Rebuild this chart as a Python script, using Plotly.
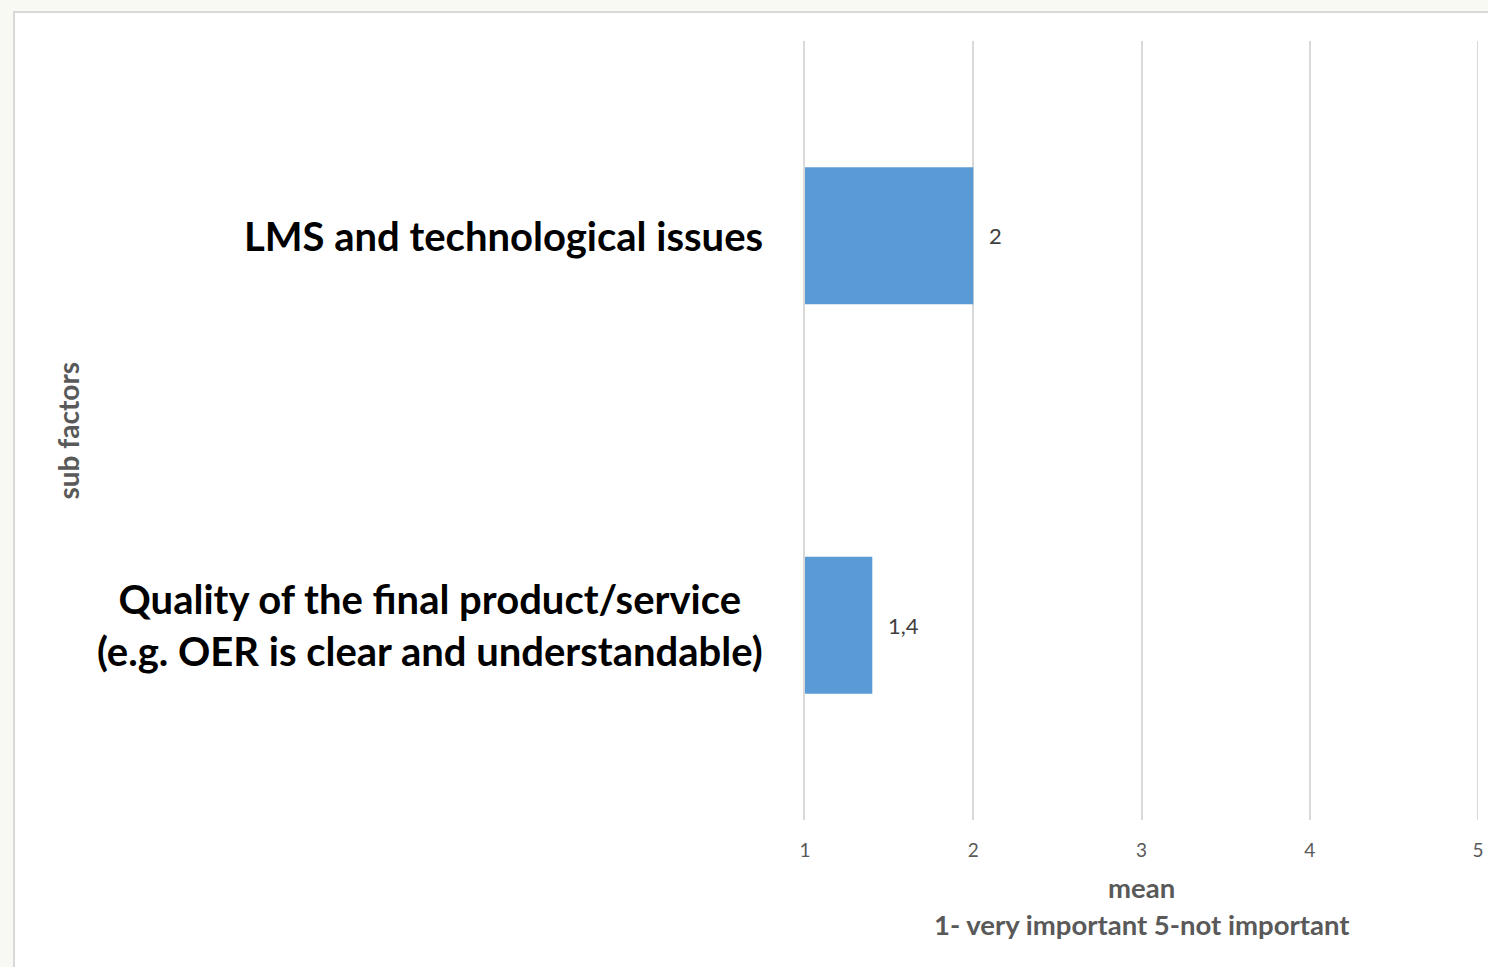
import plotly.graph_objects as go

categories = ["Quality of the final product/service<br>(e.g. OER is clear and understandable)",
              "LMS and technological issues"]
means = [1.4, 2]
x_ticks = [1, 2, 3, 4, 5]
x_title_lines = ["mean", "1- very important 5-not important"]
y_title = "sub factors"

W, H = 1488, 967
L, R, T, B = 805, 1478, 41, 820
FONT = "Lato, Open Sans, sans-serif"
GRID = "#d9d9d9"

def px_x(p):
    return (p - L) / (R - L)

def px_y(p):
    return (B - p) / (B - T)

fig = go.Figure()
fig.add_trace(go.Bar(
    y=categories, x=means, orientation="h",
    marker=dict(color="#5b9bd5", line=dict(width=0)),
    width=0.352, hoverinfo="skip",
))

annotations = []
for c, v in zip(categories, means):
    annotations.append(dict(
        x=v, y=c, xref="x", yref="y", text=f"{v:g}".replace(".", ","),
        showarrow=False, xanchor="left", xshift=14,
        font=dict(family=FONT, size=22, color="#404040"),
    ))
    annotations.append(dict(
        x=0, y=c, xref="x domain", yref="y", text="<b>" + c.replace("<br>", "</b><br><b>") + "</b>",
        showarrow=False, xanchor="right", xshift=-40, align="center",
        font=dict(family=FONT, size=40, color="#000000"),
    ))
annotations.append(dict(
    x=px_x(67), y=0.5, xref="paper", yref="paper", text="<b>" + y_title + "</b>", textangle=-90,
    showarrow=False, xanchor="center", yanchor="middle",
    font=dict(family=FONT, size=28, color="#595959"),
))
for line, ypx in zip(x_title_lines, [888, 924]):
    annotations.append(dict(
        x=0.5, y=px_y(ypx), xref="paper", yref="paper", text="<b>" + line + "</b>",
        showarrow=False, xanchor="center", yanchor="middle",
        font=dict(family=FONT, size=27.5, color="#595959"),
    ))

shapes = [dict(
    type="rect", xref="paper", yref="paper", layer="below",
    x0=px_x(14), x1=px_x(1520), y0=px_y(1000), y1=px_y(12),
    fillcolor="#ffffff", line=dict(color=GRID, width=2),
)]

fig.update_layout(
    width=W, height=H, autosize=False,
    margin=dict(l=L, r=W - R, t=T, b=H - B, pad=0),
    paper_bgcolor="#f9f9f4", plot_bgcolor="rgba(0,0,0,0)",
    showlegend=False, bargap=0.65,
    annotations=annotations, shapes=shapes,
    xaxis=dict(
        range=[x_ticks[0], x_ticks[-1]], tickvals=x_ticks, ticktext=[str(t) for t in x_ticks],
        showgrid=True, gridcolor=GRID, gridwidth=1.5, zeroline=False,
        showline=False, ticks="", ticklabelstandoff=17, automargin=False,
        tickfont=dict(family=FONT, size=19, color="#595959"),
        fixedrange=True,
    ),
    yaxis=dict(
        categoryorder="array", categoryarray=categories, automargin=False,
        showticklabels=False, ticks="", showgrid=False, zeroline=False,
        showline=True, linecolor=GRID, linewidth=1.5, fixedrange=True,
    ),
)
# gridline at the upper end of the value axis (Plotly omits it at the range edge)
fig.add_vline(x=x_ticks[-1], line=dict(color=GRID, width=2), layer="below")

fig.write_html(
    "out.html",
    config={"displayModeBar": False},
    post_script="document.body.style.margin='0';document.body.style.overflow='hidden';",
)
